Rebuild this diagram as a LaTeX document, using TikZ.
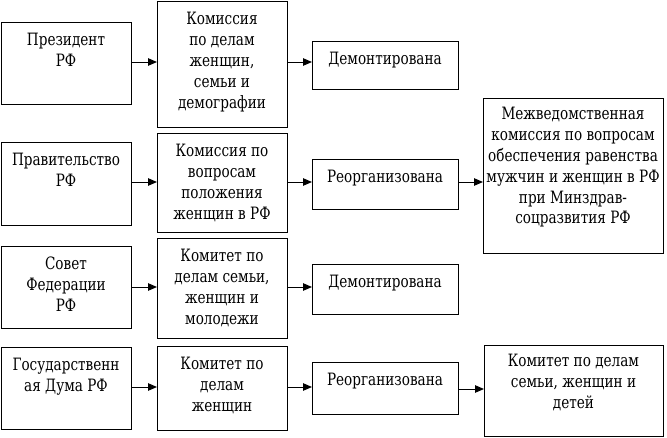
\documentclass[tikz,border=0pt]{standalone}
\usepackage{fontspec}
\setmainfont{DejaVu Serif}[FakeStretch=0.8]
\usetikzlibrary{arrows.meta}
\newcommand{\boxtxt}[4]{\parbox[c][#1][t]{#2}{\centering\fontsize{17}{20.8}\selectfont\vspace*{#3}\strut #4\par}}
\tikzset{
  box/.style={draw=black, line width=1pt, inner sep=0pt, outer sep=0pt, anchor=north west},
  arr/.style={draw=black, line width=1pt, -{Triangle[length=9pt,width=7.5pt]}}
}
\begin{document}
\begin{tikzpicture}[x=1pt,y=-1pt]
\useasboundingbox (0,0) rectangle (667,437);
% column 1
\node[box] (c1r1) at (1,22)  {\boxtxt{82pt}{130pt}{9.4pt}{Президент\\РФ}};
\node[box] (c1r2) at (1,142) {\boxtxt{83pt}{130pt}{9.4pt}{Правительство\\РФ}};
\node[box] (c1r3) at (1,246) {\boxtxt{82pt}{130pt}{9.4pt}{Совет\\Федерации\\РФ}};
\node[box] (c1r4) at (1,347) {\boxtxt{82pt}{130pt}{9.4pt}{Государственн\\ая Дума РФ}};
% column 2
\node[box] (c2r1) at (157,1)   {\boxtxt{126pt}{130pt}{9.4pt}{Комиссия\\по делам\\женщин,\\семьи и\\демографии}};
\node[box] (c2r2) at (157,133) {\boxtxt{99pt}{130pt}{9.4pt}{Комиссия по\\вопросам\\положения\\женщин в РФ}};
\node[box] (c2r3) at (157,238) {\boxtxt{100pt}{130pt}{9.4pt}{Комитет по\\делам семьи,\\женщин и\\молодежи}};
\node[box] (c2r4) at (157,346) {\boxtxt{84pt}{130pt}{9.4pt}{Комитет по\\делам\\женщин}};
% column 3
\node[box] (c3r1) at (312,41)  {\boxtxt{48pt}{146pt}{9.4pt}{Демонтирована}};
\node[box] (c3r2) at (312,159) {\boxtxt{50pt}{146pt}{9.4pt}{Реорганизована}};
\node[box] (c3r3) at (312,264) {\boxtxt{50pt}{146pt}{9.4pt}{Демонтирована}};
\node[box] (c3r4) at (312,362) {\boxtxt{52pt}{146pt}{9.4pt}{Реорганизована}};
% column 4
\node[box] (c4r2) at (483,98)  {\boxtxt{155pt}{180pt}{7.4pt}{Межведомственная\\комиссия по вопросам\\обеспечения равенства\\мужчин и женщин в РФ\\при Минздрав-\\соцразвития РФ}};
\node[box] (c4r4) at (484,345) {\boxtxt{91pt}{179pt}{7.4pt}{Комитет по делам\\семьи, женщин и\\детей}};
% arrows
\draw[arr] (c1r1.east |- 0,62)  -- (c2r1.west |- 0,62);
\draw[arr] (c2r1.east |- 0,62)  -- (c3r1.west |- 0,62);
\draw[arr] (c1r2.east |- 0,182) -- (c2r2.west |- 0,182);
\draw[arr] (c2r2.east |- 0,182) -- (c3r2.west |- 0,182);
\draw[arr] (c3r2.east |- 0,182) -- (c4r2.west |- 0,182);
\draw[arr] (c1r3.east |- 0,287) -- (c2r3.west |- 0,287);
\draw[arr] (c2r3.east |- 0,287) -- (c3r3.west |- 0,287);
\draw[arr] (c1r4.east |- 0,387) -- (c2r4.west |- 0,387);
\draw[arr] (c2r4.east |- 0,387) -- (c3r4.west |- 0,387);
\draw[arr] (c3r4.east |- 0,389) -- (c4r4.west |- 0,389);
\end{tikzpicture}
\end{document}
